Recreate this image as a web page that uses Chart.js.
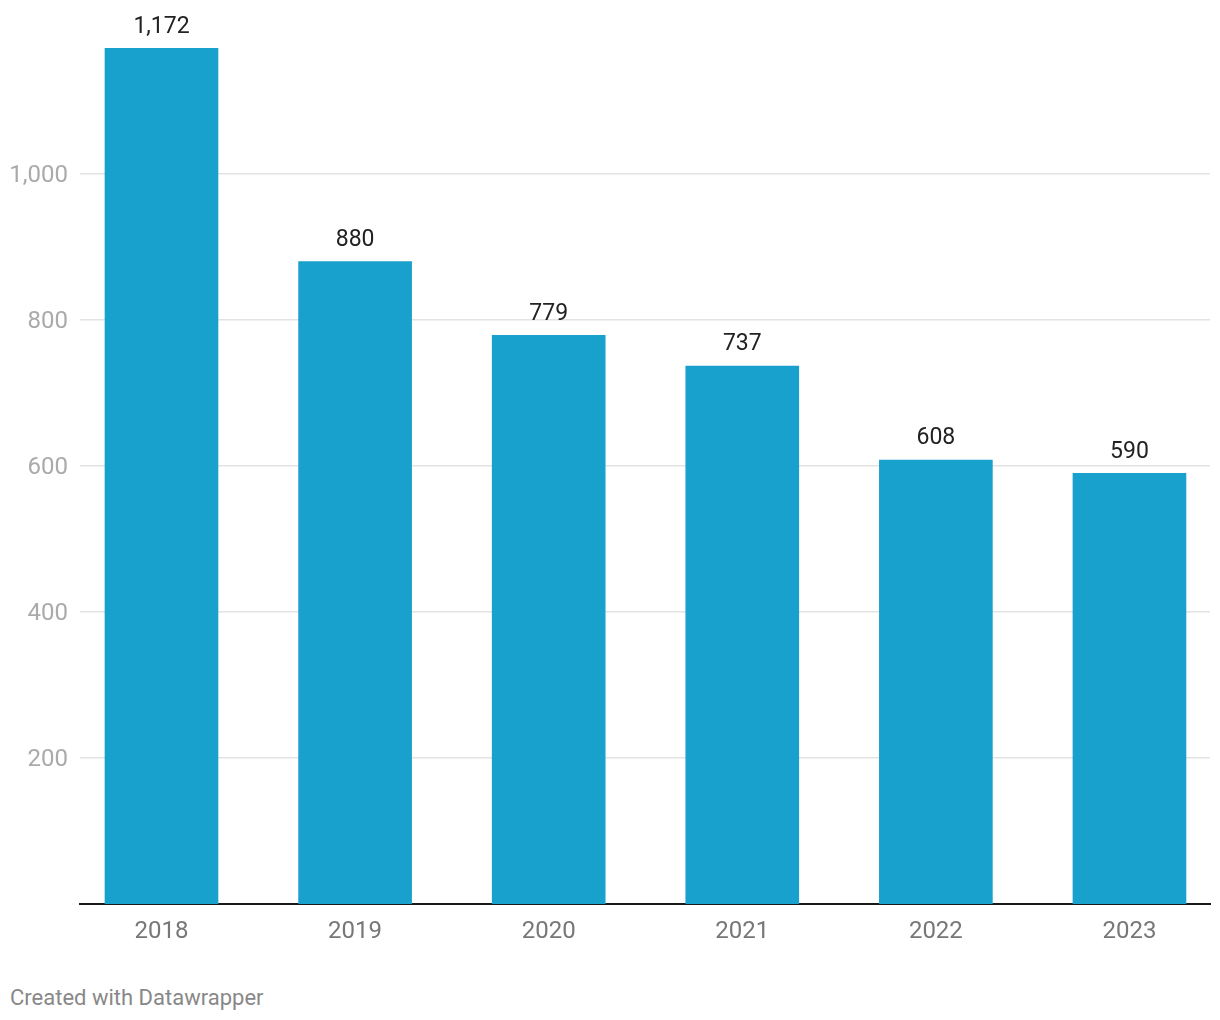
<!DOCTYPE html>
<html>
<head>
<meta charset="utf-8">
<script src="https://cdn.jsdelivr.net/npm/chart.js@4"></script>
<style>
  body { margin: 0; background: #fff; font-family: Roboto, sans-serif; }
  #wrap { position: relative; width: 1220px; height: 1020px; }
  #footer { position: absolute; left: 10px; top: 985px; font-size: 22px; color: #888; }
</style>
</head>
<body>
<div id="wrap">
  <canvas id="chart" width="1220" height="960" style="width:1220px;height:960px;"></canvas>
  <div id="footer">Created with Datawrapper</div>
</div>
<script>
const years = ['2018', '2019', '2020', '2021', '2022', '2023'];
const values = [1172, 880, 779, 737, 608, 590];
const yTicks = [200, 400, 600, 800, 1000];

const valueLabels = {
    id: 'valueLabels',
    afterDatasetsDraw(chart) {
        const ctx = chart.ctx;
        const meta = chart.getDatasetMeta(0);
        ctx.save();
        ctx.font = '23px Roboto';
        ctx.fillStyle = '#222';
        ctx.textAlign = 'center';
        ctx.textBaseline = 'bottom';
        meta.data.forEach(function (bar, i) {
            ctx.fillText(values[i].toLocaleString('en-US'), bar.x, bar.y - 10);
        });
        ctx.restore();
    }
};

document.addEventListener('DOMContentLoaded', function () {
    const ctx = document.getElementById('chart').getContext('2d');
    new Chart(ctx, {
        type: 'bar',
        data: {
            datasets: [{
                data: years.map(function (y, i) { return { x: i, y: values[i] }; }),
                backgroundColor: '#18a1cd',
                barThickness: 113
            }]
        },
        options: {
            responsive: false,
            animation: false,
            layout: { padding: { top: 28, right: 10, left: 0, bottom: 0 } },
            plugins: { legend: { display: false }, tooltip: { enabled: false } },
            scales: {
                x: {
                    type: 'linear',
                    offset: false,
                    min: -0.421,
                    max: 5.416,
                    afterBuildTicks: function (scale) {
                        scale.ticks = years.map(function (y, i) { return { value: i }; });
                    },
                    afterFit: function (scale) { scale.height = 56; },
                    grid: { display: false, drawTicks: false },
                    border: { display: true, color: '#1a1a1a', width: 2 },
                    ticks: {
                        padding: 14,
                        color: '#777',
                        font: { family: 'Roboto', size: 24 },
                        maxRotation: 0,
                        autoSkip: false,
                        callback: function (v) { return years[v]; }
                    }
                },
                y: {
                    min: 0,
                    max: 1200,
                    afterBuildTicks: function (scale) {
                        scale.ticks = yTicks.map(function (v) { return { value: v }; });
                    },
                    afterFit: function (scale) { scale.width = 80; },
                    grid: { color: '#e3e3e3', lineWidth: 1.5, drawTicks: false },
                    border: { display: false },
                    ticks: {
                        padding: 12,
                        labelOffset: 2,
                        color: '#aaa',
                        font: { family: 'Roboto', size: 24 },
                        callback: function (v) { return v.toLocaleString('en-US'); }
                    }
                }
            }
        },
        plugins: [valueLabels]
    });
});
</script>
</body>
</html>
